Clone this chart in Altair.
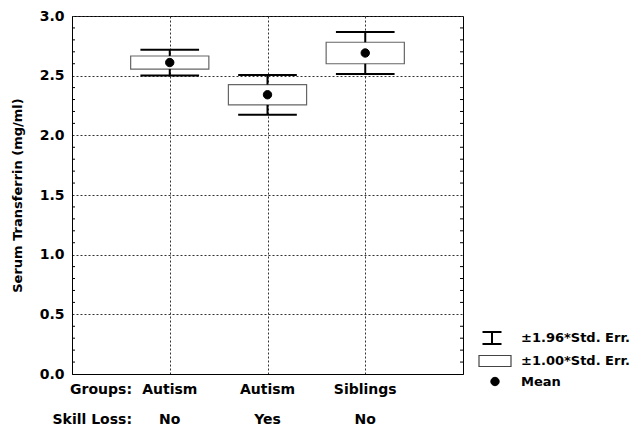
import altair as alt
import pandas as pd

# Group summaries: mean and standard error of serum transferrin (mg/ml)
groups = ["Autism", "Autism", "Siblings"]
skill_loss = ["No", "Yes", "No"]
positions = [1, 2, 3]
means = [2.61, 2.34, 2.69]
std_err = [0.055, 0.085, 0.090]

y_ticks = [0.0, 0.5, 1.0, 1.5, 2.0, 2.5, 3.0]
minor_ticks = [0.1, 0.2, 0.3, 0.4, 0.6, 0.7, 0.8, 0.9, 1.1, 1.2, 1.3, 1.4,
               1.6, 1.7, 1.8, 1.9, 2.1, 2.2, 2.3, 2.4, 2.6, 2.7, 2.8, 2.9]

legend_items = ["±1.96*Std. Err.", "±1.00*Std. Err.", "Mean"]
# symbol paths: error-bar glyph, flat box, small filled dot
legend_shapes = [
    "M-1.25,-0.6H0.65M-0.3,-0.6V0.6M-1.25,0.6H0.65",
    "M-1.6,-0.55H1.6V0.55H-1.6Z",
    "M-0.42,0A0.42,0.42,0,1,1,0.42,0A0.42,0.42,0,1,1,-0.42,0Z",
]

FONT = "DejaVu Sans"
BOX_HALF = 0.4
CAP_HALF = 0.3

df = pd.DataFrame({
    "group": groups,
    "skill": skill_loss,
    "pos": positions,
    "mean": means,
    "se": std_err,
})
df["box_lo"] = df["mean"] - df["se"]
df["box_hi"] = df["mean"] + df["se"]
df["ci_lo"] = df["mean"] - 1.96 * df["se"]
df["ci_hi"] = df["mean"] + 1.96 * df["se"]
df["x_box_l"] = df["pos"] - BOX_HALF
df["x_box_r"] = df["pos"] + BOX_HALF
df["x_cap_l"] = df["pos"] - CAP_HALF
df["x_cap_r"] = df["pos"] + CAP_HALF
df["kind"] = "Mean"

x_scale = alt.Scale(domain=[0, 4], nice=False, zero=False)
y_scale = alt.Scale(domain=[0, 3], nice=False)

x_axis = alt.Axis(values=positions, labels=False, ticks=False, title=None,
                  grid=True, gridDash=[2, 2], gridColor="#333333",
                  domainColor="black")
y_axis = alt.Axis(values=y_ticks, format=".1f",
                  title="Serum Transferrin (mg/ml)", ticks=False,
                  labelFont=FONT, labelFontSize=14, labelFontWeight="bold",
                  labelColor="black", labelPadding=8,
                  titleFont=FONT, titleFontSize=13, titleFontWeight="bold",
                  titleColor="black", titlePadding=15,
                  grid=True, gridDash=[2, 2], gridColor="#333333",
                  domainColor="black")

base = alt.Chart(df)

box = base.mark_rect(fill="white", stroke="#666666", strokeWidth=1.2).encode(
    x=alt.X("x_box_l:Q", scale=x_scale, axis=x_axis),
    x2="x_box_r:Q",
    y=alt.Y("box_lo:Q", scale=y_scale, axis=y_axis),
    y2="box_hi:Q",
)

stem_lo = base.mark_rule(color="black", strokeWidth=2).encode(
    x="pos:Q", y="ci_lo:Q", y2="box_lo:Q")
stem_hi = base.mark_rule(color="black", strokeWidth=2).encode(
    x="pos:Q", y="box_hi:Q", y2="ci_hi:Q")
cap_lo = base.mark_rule(color="black", strokeWidth=2).encode(
    x="x_cap_l:Q", x2="x_cap_r:Q", y="ci_lo:Q")
cap_hi = base.mark_rule(color="black", strokeWidth=2).encode(
    x="x_cap_l:Q", x2="x_cap_r:Q", y="ci_hi:Q")

legend = alt.Legend(title=None, orient="none", legendX=412, legendY=311,
                    symbolSize=400, rowPadding=2,
                    labelFont=FONT, labelFontSize=13,
                    labelFontWeight="bold", labelColor="black", labelOffset=15)

mean_pts = base.mark_point(opacity=1, size=400).encode(
    x="pos:Q",
    y="mean:Q",
    shape=alt.Shape("kind:N",
                    scale=alt.Scale(domain=legend_items, range=legend_shapes),
                    legend=legend),
    fill=alt.Fill("kind:N",
                  scale=alt.Scale(domain=legend_items,
                                  range=["white", "white", "black"]),
                  legend=legend),
    stroke=alt.Stroke("kind:N",
                      scale=alt.Scale(domain=legend_items,
                                      range=["black", "#444444", "black"]),
                      legend=legend),
    strokeWidth=alt.StrokeWidth("kind:N",
                                scale=alt.Scale(type="ordinal",
                                                domain=legend_items,
                                                range=[2, 1.2, 1]),
                                legend=legend),
)

# short inward ticks on the left and right frame edges
minor = pd.DataFrame({"v": minor_ticks})
minor_left = alt.Chart(minor).mark_rule(color="black", strokeWidth=1).encode(
    y="v:Q", x=alt.value(0), x2=alt.value(3))
minor_right = alt.Chart(minor).mark_rule(color="black", strokeWidth=1).encode(
    y="v:Q", x=alt.value(388), x2=alt.value(391))

text_style = dict(font=FONT, fontSize=14, fontWeight="bold", color="black",
                  baseline="middle")
group_text = base.mark_text(**text_style).encode(
    x="pos:Q", y=alt.value(374), text="group:N")
skill_text = base.mark_text(**text_style).encode(
    x="pos:Q", y=alt.value(404), text="skill:N")

headers = pd.DataFrame({"label": ["Groups:", "Skill Loss:"], "row": [374, 404]})
header_text = alt.Chart(headers).mark_text(align="right", **text_style).encode(
    x=alt.value(60), y=alt.Y("row:Q", scale=None), text="label:N")

chart = alt.layer(
    box, minor_left, minor_right, stem_lo, stem_hi, cap_lo, cap_hi, mean_pts,
    group_text, skill_text, header_text,
).properties(
    width=391, height=358,
    autosize=alt.AutoSizeParams(type="none"),
    padding={"left": 72, "top": 16, "right": 174, "bottom": 54},
    background="white",
).configure_view(
    stroke="black", strokeWidth=1,
)

chart.save("out.html", embed_options={"renderer": "svg", "actions": False})
